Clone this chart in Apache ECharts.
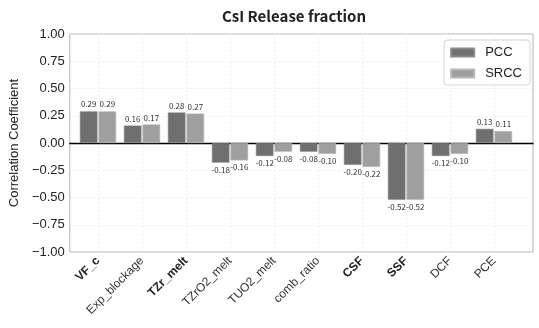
<!DOCTYPE html>
<html>
<head>
<meta charset="utf-8">
<script src="https://cdn.jsdelivr.net/npm/echarts@6/dist/echarts.min.js"></script>
<style>
  html, body { margin: 0; padding: 0; background: #fff; }
  #chart { width: 539px; height: 328px; }
</style>
</head>
<body>
<div id="chart"></div>
<script>
// Input parameters and their correlation with CsI release fraction
const categories = ['VF_c', 'Exp_blockage', 'TZr_melt', 'TZrO2_melt', 'TUO2_melt',
                    'comb_ratio', 'CSF', 'SSF', 'DCF', 'PCE'];
const boldCategories = ['VF_c', 'TZr_melt', 'CSF', 'SSF'];
const pccValues  = [0.29, 0.16, 0.28, -0.18, -0.12, -0.08, -0.20, -0.52, -0.12, 0.13];
const srccValues = [0.29, 0.17, 0.27, -0.16, -0.08, -0.10, -0.22, -0.52, -0.10, 0.11];
const yTicks = [-1.00, -0.75, -0.50, -0.25, 0.00, 0.25, 0.50, 0.75, 1.00];

const FONT = '"Liberation Sans", Arial, sans-serif';
const LABEL_FONT = '"Noto Sans CJK KR", "Noto Sans", sans-serif';

function barData(values) {
  return values.map(v => ({
    value: v,
    label: { position: v >= 0 ? 'top' : 'bottom' }
  }));
}

const chart = echarts.init(document.getElementById('chart'), null, { renderer: 'canvas' });

chart.setOption({
  animation: false,
  backgroundColor: '#ffffff',
  title: {
    text: 'CsI Release fraction',
    left: 289, top: 4, textAlign: 'center',
    textStyle: { fontFamily: LABEL_FONT, fontSize: 15, fontWeight: 'bold', color: '#222' }
  },
  legend: {
    data: ['PCC', 'SRCC'],
    orient: 'vertical',
    right: 9, top: 40,
    itemWidth: 23, itemHeight: 8, itemGap: 8,
    icon: 'rect',
    padding: [6, 8, 5, 6],
    borderColor: '#d6d6d6', borderWidth: 1, borderRadius: 3,
    backgroundColor: '#ffffff',
    textStyle: { fontFamily: FONT, fontSize: 13, color: '#222', padding: [0, 0, 0, 6] }
  },
  grid: [
    // bar area: category points from first to last tick
    { left: 98, right: 45, top: 34, bottom: 76 },
    // frame with y scale and zero line
    { left: 57, right: 6, top: 34, bottom: 76, show: true, borderColor: '#b4b4b4', borderWidth: 1, z: 0 }
  ],
  xAxis: [
    {
      gridIndex: 0, type: 'category', data: categories, boundaryGap: false,
      axisLine: { show: false }, axisTick: { show: false },
      splitLine: { show: true, lineStyle: { color: '#ececec', type: [2, 2], width: 0.8 } },
      axisLabel: {
        rotate: 45, margin: 7, interval: 0, fontFamily: FONT, fontSize: 12, color: '#333',
        formatter: v => boldCategories.includes(v) ? '{b|' + v + '}' : v,
        rich: { b: { fontFamily: FONT, fontSize: 12, fontWeight: 'bold', color: '#222' } }
      }
    },
    {
      gridIndex: 1, type: 'value', min: 0, max: 1,
      axisLine: { show: true, onZero: true, lineStyle: { color: '#000', width: 1.4 } },
      axisTick: { show: false }, axisLabel: { show: false }, splitLine: { show: false }
    }
  ],
  yAxis: [
    { gridIndex: 0, type: 'value', min: -1, max: 1, show: false },
    {
      gridIndex: 1, type: 'value', min: -1, max: 1, interval: 0.25,
      name: 'Correlation Coefficient', nameLocation: 'middle', nameGap: 45,
      nameTextStyle: { fontFamily: FONT, fontSize: 13, color: '#222' },
      axisLine: { show: false }, axisTick: { show: false },
      axisLabel: {
        fontFamily: FONT, fontSize: 13, color: '#222', margin: 5,
        formatter: v => yTicks.includes(Math.round(v * 100) / 100)
          ? v.toFixed(2).replace('-', '\u2212') : ''
      },
      splitLine: { show: true, lineStyle: { color: '#ececec', type: [2, 2], width: 0.8 } }
    }
  ],
  series: [
    {
      name: 'PCC', type: 'bar', xAxisIndex: 0, yAxisIndex: 0,
      data: barData(pccValues),
      barWidth: '40%', barGap: '6%',
      itemStyle: { color: '#6f6f6f', borderColor: '#8a8a8a', borderWidth: 0.6 },
      label: {
        show: true, distance: 3, fontFamily: LABEL_FONT, fontSize: 8, color: '#333',
        formatter: p => p.value.toFixed(2)
      },
      z: 3
    },
    {
      name: 'SRCC', type: 'bar', xAxisIndex: 0, yAxisIndex: 0,
      data: barData(srccValues),
      barWidth: '40%', barGap: '6%',
      itemStyle: { color: '#9f9f9f', borderColor: '#b8b8b8', borderWidth: 0.6 },
      label: {
        show: true, distance: 3, fontFamily: LABEL_FONT, fontSize: 8, color: '#333',
        formatter: p => p.value.toFixed(2)
      },
      z: 3
    }
  ]
});
</script>
</body>
</html>
